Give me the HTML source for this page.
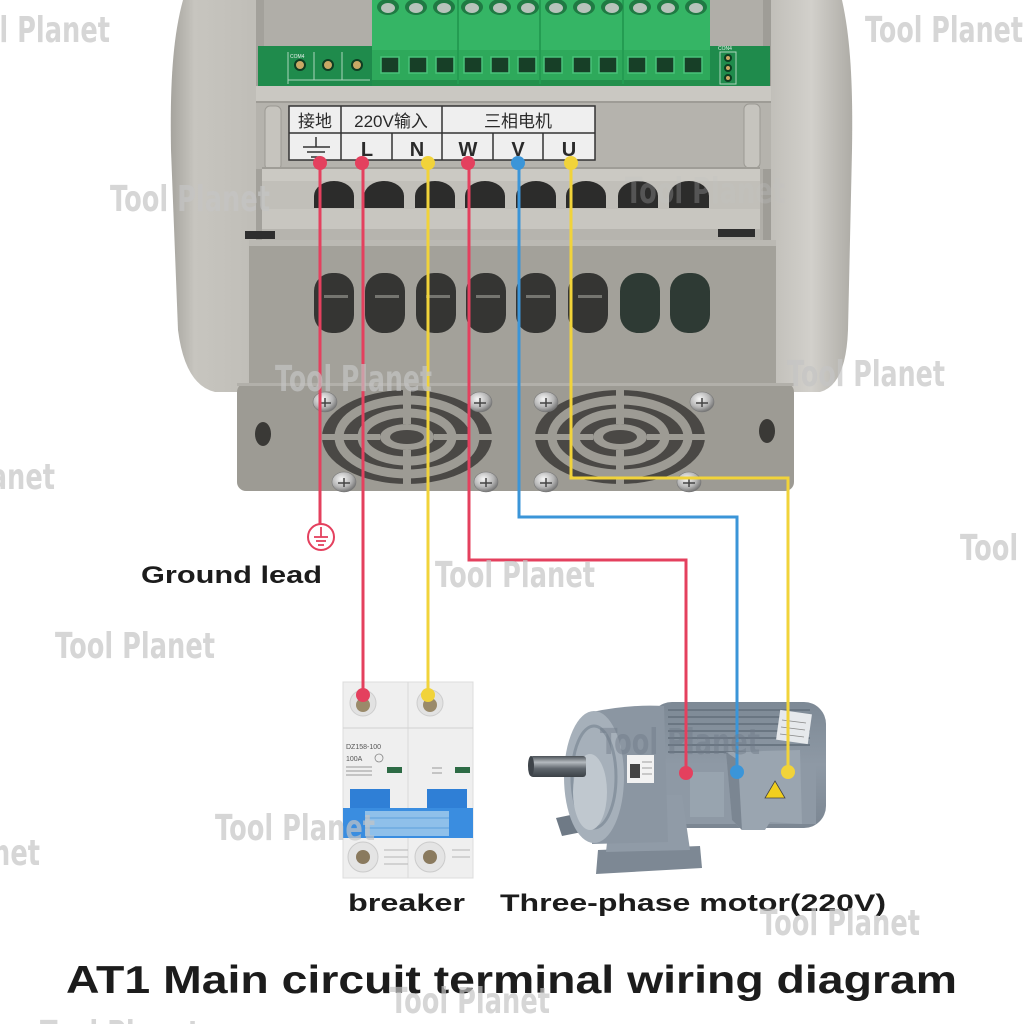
<!DOCTYPE html>
<html><head><meta charset="utf-8">
<style>html,body{margin:0;padding:0;background:#fff;}svg{display:block}</style>
</head>
<body>
<svg width="1024" height="1024" viewBox="0 0 1024 1024" xmlns="http://www.w3.org/2000/svg">
<defs>
  <linearGradient id="shellG" x1="0" x2="1" y1="0" y2="0">
    <stop offset="0" stop-color="#a6a49e"/>
    <stop offset="0.035" stop-color="#c7c5bf"/>
    <stop offset="0.12" stop-color="#c0beb8"/>
    <stop offset="0.86" stop-color="#bbb9b3"/>
    <stop offset="0.94" stop-color="#d2d0cb"/>
    <stop offset="1" stop-color="#aeaca6"/>
  </linearGradient>
  <radialGradient id="scr" cx="0.4" cy="0.35" r="0.7">
    <stop offset="0" stop-color="#f6f6f6"/>
    <stop offset="0.6" stop-color="#b5b5b5"/>
    <stop offset="1" stop-color="#6a6a6a"/>
  </radialGradient>
  <linearGradient id="shaftG" x1="0" x2="0" y1="0" y2="1">
    <stop offset="0" stop-color="#4a5056"/>
    <stop offset="0.3" stop-color="#b4babf"/>
    <stop offset="0.6" stop-color="#5f666d"/>
    <stop offset="1" stop-color="#3c4247"/>
  </linearGradient>
  <linearGradient id="motorG" x1="0" x2="0" y1="0" y2="1">
    <stop offset="0" stop-color="#7d8995"/>
    <stop offset="0.5" stop-color="#8e99a5"/>
    <stop offset="1" stop-color="#7b8692"/>
  </linearGradient>
</defs>

<rect width="1024" height="1024" fill="#fff"/>

<!-- ===== DEVICE ===== -->
<path d="M183,0 C172,40 170,90 171,150 L178,330 Q185,385 215,392 L820,392 Q846,385 848,330 L852,150 C853,90 851,40 842,0 Z" fill="url(#shellG)"/>
<rect x="256" y="0" width="515" height="245" fill="#b0aea8"/>
<rect x="256" y="0" width="8" height="245" fill="#a3a19b"/>
<rect x="763" y="0" width="8" height="245" fill="#9f9d97"/>

<!-- PCB -->
<rect x="258" y="46" width="512" height="42" fill="#1f8b4c"/>
<g stroke="#cfe8d8" stroke-width="1" fill="none" opacity="0.8">
  <line x1="288" y1="52" x2="288" y2="84"/>
  <line x1="314" y1="52" x2="314" y2="80"/>
  <line x1="342" y1="52" x2="342" y2="80"/>
  <line x1="288" y1="80" x2="370" y2="80"/>
  <rect x="720" y="52" width="16" height="32"/>
</g>
<g fill="#c9a865" stroke="#0e3d22" stroke-width="2">
  <circle cx="300" cy="65" r="5"/><circle cx="328" cy="65" r="5"/><circle cx="357" cy="65" r="5"/>
  <circle cx="728" cy="58" r="3"/><circle cx="728" cy="68" r="3"/><circle cx="728" cy="78" r="3"/>
</g>
<text x="290" y="58" font-family="Liberation Sans, sans-serif" font-size="5" fill="#e8f2ec">COM4</text>
<text x="718" y="50" font-family="Liberation Sans, sans-serif" font-size="5" fill="#e8f2ec">CON4</text>

<!-- green terminal block -->
<rect x="372" y="0" width="338" height="50" fill="#35b565"/>
<rect x="372" y="50" width="338" height="32" fill="#2ea95b"/>
<rect x="372" y="80" width="338" height="6" fill="#23904c"/>
<g stroke="#249c52" stroke-width="2">
  <line x1="458" y1="0" x2="458" y2="84"/><line x1="540" y1="0" x2="540" y2="84"/><line x1="623" y1="0" x2="623" y2="84"/>
</g>
<g>
  <g fill="#1f7a43">
    <ellipse cx="388" cy="7" rx="11" ry="8"/><ellipse cx="416" cy="7" rx="11" ry="8"/><ellipse cx="444" cy="7" rx="11" ry="8"/><ellipse cx="472" cy="7" rx="11" ry="8"/><ellipse cx="500" cy="7" rx="11" ry="8"/><ellipse cx="528" cy="7" rx="11" ry="8"/><ellipse cx="556" cy="7" rx="11" ry="8"/><ellipse cx="584" cy="7" rx="11" ry="8"/><ellipse cx="612" cy="7" rx="11" ry="8"/><ellipse cx="640" cy="7" rx="11" ry="8"/><ellipse cx="668" cy="7" rx="11" ry="8"/><ellipse cx="696" cy="7" rx="11" ry="8"/>
  </g>
  <g fill="#b7c3bb">
    <ellipse cx="388" cy="8" rx="7" ry="5"/><ellipse cx="416" cy="8" rx="7" ry="5"/><ellipse cx="444" cy="8" rx="7" ry="5"/><ellipse cx="472" cy="8" rx="7" ry="5"/><ellipse cx="500" cy="8" rx="7" ry="5"/><ellipse cx="528" cy="8" rx="7" ry="5"/><ellipse cx="556" cy="8" rx="7" ry="5"/><ellipse cx="584" cy="8" rx="7" ry="5"/><ellipse cx="612" cy="8" rx="7" ry="5"/><ellipse cx="640" cy="8" rx="7" ry="5"/><ellipse cx="668" cy="8" rx="7" ry="5"/><ellipse cx="696" cy="8" rx="7" ry="5"/>
  </g>
  <g fill="#173f27" stroke="#49c27a" stroke-width="1.5">
    <rect x="381" y="57" width="18" height="16"/><rect x="409" y="57" width="18" height="16"/><rect x="436" y="57" width="18" height="16"/><rect x="464" y="57" width="18" height="16"/><rect x="491" y="57" width="18" height="16"/><rect x="518" y="57" width="18" height="16"/><rect x="544" y="57" width="18" height="16"/><rect x="573" y="57" width="18" height="16"/><rect x="599" y="57" width="18" height="16"/><rect x="628" y="57" width="18" height="16"/><rect x="656" y="57" width="18" height="16"/><rect x="684" y="57" width="18" height="16"/>
  </g>
</g>

<rect x="256" y="86" width="515" height="17" fill="#cac8c2"/>
<rect x="256" y="101" width="515" height="2" fill="#9e9c96"/>
<rect x="256" y="103" width="515" height="66" fill="#b5b3ad"/>
<rect x="265" y="106" width="16" height="64" rx="5" fill="#c6c4be" stroke="#9c9a94"/>
<rect x="744" y="104" width="16" height="64" rx="5" fill="#c6c4be" stroke="#9c9a94"/>

<!-- label -->
<rect x="289" y="106" width="306" height="54" fill="#efefef" stroke="#333" stroke-width="1.5"/>
<g stroke="#333" stroke-width="1.5">
  <line x1="289" y1="133" x2="595" y2="133"/>
  <line x1="341" y1="106" x2="341" y2="160"/>
  <line x1="442" y1="106" x2="442" y2="160"/>
  <line x1="392" y1="133" x2="392" y2="160"/>
  <line x1="493" y1="133" x2="493" y2="160"/>
  <line x1="543" y1="133" x2="543" y2="160"/>
  <line x1="316" y1="137" x2="316" y2="147"/>
  <line x1="303" y1="147" x2="330" y2="147"/>
  <line x1="307" y1="152" x2="325" y2="152"/>
  <line x1="311" y1="157" x2="321" y2="157"/>
</g>
<g font-family="Liberation Sans, 'Noto Sans CJK SC', sans-serif" fill="#2a2a2a" text-anchor="middle">
  <text x="315" y="127" font-size="17">接地</text>
  <text x="391" y="127" font-size="17">220V输入</text>
  <text x="518" y="127" font-size="17">三相电机</text>
  <g font-weight="bold" font-size="20">
    <text x="367" y="156">L</text>
    <text x="417" y="156">N</text>
    <text x="468" y="156">W</text>
    <text x="518" y="156">V</text>
    <text x="569" y="156">U</text>
  </g>
</g>

<!-- terminal cover -->
<rect x="262" y="167" width="498" height="14" fill="#cbc9c3"/>
<rect x="262" y="167" width="498" height="2" fill="#9f9d97"/>
<rect x="262" y="181" width="498" height="28" fill="#c1bfb9"/>
<rect x="262" y="209" width="498" height="20" fill="#c8c6c0"/>
<rect x="262" y="229" width="498" height="12" fill="#b6b4ae"/>
<g fill="#2c2c2b">
  <path d="M314,208 L314,196 A20,15 0 0 1 354,196 L354,208 Z"/>
  <path d="M364,208 L364,196 A20,15 0 0 1 404,196 L404,208 Z"/>
  <path d="M415,208 L415,196 A20,15 0 0 1 455,196 L455,208 Z"/>
  <path d="M465,208 L465,196 A20,15 0 0 1 505,196 L505,208 Z"/>
  <path d="M516,208 L516,196 A20,15 0 0 1 556,196 L556,208 Z"/>
  <path d="M566,208 L566,196 A20,15 0 0 1 606,196 L606,208 Z"/>
  <path d="M618,208 L618,196 A20,15 0 0 1 658,196 L658,208 Z"/>
  <path d="M669,208 L669,196 A20,15 0 0 1 709,196 L709,208 Z"/>
</g>
<rect x="245" y="231" width="30" height="8" fill="#2e2e2e"/>
<rect x="718" y="229" width="37" height="8" fill="#2e2e2e"/>

<!-- front cover -->
<rect x="249" y="240" width="527" height="150" fill="#a3a19a"/>
<rect x="249" y="240" width="527" height="6" fill="#bbb9b3"/>
<g fill="#353533">
  <rect x="314" y="273" width="40" height="60" rx="18"/>
  <rect x="365" y="273" width="40" height="60" rx="18"/>
  <rect x="416" y="273" width="40" height="60" rx="18"/>
  <rect x="466" y="273" width="40" height="60" rx="18"/>
  <rect x="516" y="273" width="40" height="60" rx="18"/>
  <rect x="568" y="273" width="40" height="60" rx="18"/>
</g>
<g fill="#2e3a34">
  <rect x="620" y="273" width="40" height="60" rx="18"/>
  <rect x="670" y="273" width="40" height="60" rx="18"/>
</g>
<g fill="#757570">
  <rect x="324" y="295" width="24" height="3"/><rect x="375" y="295" width="24" height="3"/><rect x="426" y="295" width="24" height="3"/><rect x="476" y="295" width="24" height="3"/><rect x="526" y="295" width="24" height="3"/><rect x="578" y="295" width="24" height="3"/>
</g>

<!-- base -->
<rect x="237" y="383" width="557" height="108" rx="9" fill="#9d9b94"/>
<rect x="237" y="383" width="557" height="3" fill="#b2b0aa"/>
<ellipse cx="263" cy="434" rx="8" ry="12" fill="#3a3936"/>
<ellipse cx="767" cy="431" rx="8" ry="12" fill="#3a3936"/>

<!-- fans -->
<g transform="translate(407,437)">
  <ellipse rx="85" ry="47" fill="#4a4845"/>
  <ellipse rx="68" ry="37" fill="none" stroke="#9d9b94" stroke-width="9"/>
  <ellipse rx="45" ry="24" fill="none" stroke="#9d9b94" stroke-width="9"/>
  <ellipse rx="27" ry="13" fill="#9d9b94"/>
  <ellipse rx="17" ry="7" fill="#4a4845"/>
  <rect x="-4" y="-47" width="8" height="34" fill="#9d9b94"/>
  <rect x="-4" y="13" width="8" height="34" fill="#9d9b94"/>
  <rect x="-85" y="-3" width="58" height="6" fill="#9d9b94"/>
  <rect x="27" y="-3" width="58" height="6" fill="#9d9b94"/>
</g>
<g transform="translate(620,437)">
  <ellipse rx="85" ry="47" fill="#4a4845"/>
  <ellipse rx="68" ry="37" fill="none" stroke="#9d9b94" stroke-width="9"/>
  <ellipse rx="45" ry="24" fill="none" stroke="#9d9b94" stroke-width="9"/>
  <ellipse rx="27" ry="13" fill="#9d9b94"/>
  <ellipse rx="17" ry="7" fill="#4a4845"/>
  <rect x="-4" y="-47" width="8" height="34" fill="#9d9b94"/>
  <rect x="-4" y="13" width="8" height="34" fill="#9d9b94"/>
  <rect x="-85" y="-3" width="58" height="6" fill="#9d9b94"/>
  <rect x="27" y="-3" width="58" height="6" fill="#9d9b94"/>
</g>
<g fill="url(#scr)" stroke="#777" stroke-width="0.6">
  <ellipse cx="325" cy="402" rx="12" ry="10"/>
  <ellipse cx="480" cy="402" rx="12" ry="10"/>
  <ellipse cx="546" cy="402" rx="12" ry="10"/>
  <ellipse cx="702" cy="402" rx="12" ry="10"/>
  <ellipse cx="344" cy="482" rx="12" ry="10"/>
  <ellipse cx="486" cy="482" rx="12" ry="10"/>
  <ellipse cx="546" cy="482" rx="12" ry="10"/>
  <ellipse cx="689" cy="482" rx="12" ry="10"/>
</g>
<g stroke="#444" stroke-width="1.5">
  <path d="M319,403 h12 M325,398 v9"/><path d="M474,403 h12 M480,398 v9"/><path d="M540,403 h12 M546,398 v9"/><path d="M696,403 h12 M702,398 v9"/>
  <path d="M338,483 h12 M344,478 v9"/><path d="M480,483 h12 M486,478 v9"/><path d="M540,483 h12 M546,478 v9"/><path d="M683,483 h12 M689,478 v9"/>
</g>

<!-- ===== BREAKER ===== -->
<g>
  <rect x="343" y="682" width="130" height="196" fill="#efefef" stroke="#dcdcdc"/>
  <line x1="408" y1="682" x2="408" y2="878" stroke="#dadada"/>
  <line x1="343" y1="728" x2="473" y2="728" stroke="#d2d2d2"/>
  <circle cx="363" cy="703" r="13" fill="#e2e2e2" stroke="#cdcdcd"/>
  <circle cx="430" cy="703" r="13" fill="#e2e2e2" stroke="#cdcdcd"/>
  <circle cx="363" cy="705" r="7" fill="#9a8a6a"/>
  <circle cx="430" cy="705" r="7" fill="#9a8a6a"/>
  <g font-family="Liberation Sans, sans-serif" fill="#555">
    <text x="346" y="749" font-size="7">DZ158-100</text>
    <text x="346" y="761" font-size="7">100A</text>
    <circle cx="379" cy="758" r="4" fill="none" stroke="#888" stroke-width="0.8"/>
  </g>
  <g stroke="#9a9a9a" stroke-width="1">
    <line x1="346" y1="767" x2="372" y2="767"/><line x1="346" y1="771" x2="372" y2="771"/><line x1="346" y1="775" x2="372" y2="775"/>
    <line x1="432" y1="768" x2="442" y2="768"/><line x1="432" y1="773" x2="442" y2="773"/>
  </g>
  <rect x="387" y="767" width="15" height="6" fill="#2d6b45"/>
  <rect x="455" y="767" width="15" height="6" fill="#2d6b45"/>
  <rect x="350" y="789" width="40" height="22" fill="#2f7fd6"/>
  <rect x="427" y="789" width="40" height="22" fill="#2f7fd6"/>
  <rect x="343" y="808" width="130" height="30" fill="#3a8de0"/>
  <rect x="365" y="811" width="84" height="25" fill="#8fc0ea"/>
  <line x1="365" y1="818" x2="449" y2="818" stroke="#5d9fdc"/>
  <line x1="365" y1="828" x2="449" y2="828" stroke="#5d9fdc"/>
  <circle cx="363" cy="857" r="15" fill="#e4e4e4" stroke="#cbcbcb"/>
  <circle cx="430" cy="857" r="15" fill="#e4e4e4" stroke="#cbcbcb"/>
  <circle cx="363" cy="857" r="7" fill="#8a7a5e"/>
  <circle cx="430" cy="857" r="7" fill="#8a7a5e"/>
  <g stroke="#b5b5b5"><line x1="384" y1="850" x2="408" y2="850"/><line x1="384" y1="857" x2="408" y2="857"/><line x1="384" y1="864" x2="408" y2="864"/><line x1="452" y1="850" x2="470" y2="850"/><line x1="452" y1="857" x2="470" y2="857"/></g>
</g>

<!-- ===== MOTOR ===== -->
<g>
  <path d="M556,818 L585,812 L592,830 L562,836 Z" fill="#6f7a86"/>
  <path d="M598,850 L700,846 L702,868 L596,874 Z" fill="#7d8894"/>
  <rect x="650" y="702" width="176" height="126" rx="22" fill="url(#motorG)"/>
  <g stroke="#6a7682" stroke-width="2">
    <line x1="668" y1="710" x2="810" y2="710"/><line x1="668" y1="717" x2="810" y2="717"/><line x1="668" y1="724" x2="810" y2="724"/><line x1="668" y1="731" x2="810" y2="731"/><line x1="668" y1="738" x2="810" y2="738"/><line x1="668" y1="745" x2="810" y2="745"/><line x1="668" y1="752" x2="770" y2="752"/>
  </g>
  <rect x="656" y="764" width="160" height="60" fill="#8e99a5"/>
  <path d="M612,795 L682,795 L690,850 L606,852 Z" fill="#909ba7"/>
  <path d="M592,712 Q630,704 664,706 L668,842 L592,844 Z" fill="#8b96a2"/>
  <ellipse cx="594" cy="777" rx="30" ry="66" fill="#a6b0ba"/>
  <ellipse cx="594" cy="777" rx="22" ry="51" fill="none" stroke="#8894a0" stroke-width="3"/>
  <ellipse cx="590" cy="792" rx="17" ry="38" fill="#c0c8cf"/>
  <rect x="530" y="756" width="56" height="21" rx="3" fill="url(#shaftG)"/>
  <ellipse cx="531" cy="766" rx="3" ry="10" fill="#3e444a"/>
  <rect x="627" y="755" width="27" height="28" fill="#f2f2f2"/>
  <rect x="630" y="764" width="10" height="14" fill="#444"/>
  <g stroke="#888" stroke-width="0.8"><line x1="642" y1="762" x2="652" y2="762"/><line x1="642" y1="768" x2="652" y2="768"/><line x1="642" y1="774" x2="652" y2="774"/></g>
  <rect x="690" y="772" width="34" height="45" fill="#98a4af"/>
  <path d="M726,752 L800,750 L802,824 L770,822 L765,830 L742,830 L732,820 Z" fill="#9aa5b0"/>
  <path d="M726,752 L732,820 L742,830 L738,760 Z" fill="#7b8692"/>
  <path d="M775,781 L785,798 L765,798 Z" fill="#f2cf1e" stroke="#444" stroke-width="0.8"/>
  <rect x="778" y="712" width="32" height="30" fill="#e6e9ec" transform="rotate(8 794 727)"/>
  <g stroke="#888" stroke-width="0.8"><line x1="782" y1="720" x2="806" y2="723"/><line x1="781" y1="727" x2="805" y2="730"/><line x1="780" y1="734" x2="804" y2="737"/></g>
</g>

<!-- ===== WIRES ===== -->
<g fill="none" stroke-width="3" stroke-linejoin="miter">
  <polyline points="320,163 320,526" stroke="#e4405e"/>
  <polyline points="363,163 363,695" stroke="#e4405e"/>
  <polyline points="428,163 428,695" stroke="#f1d33a"/>
  <polyline points="469,163 469,560 686,560 686,773" stroke="#e4405e"/>
  <polyline points="519,163 519,517 737,517 737,772" stroke="#3b95d8"/>
  <polyline points="571,163 571,478 788,478 788,772" stroke="#f1d33a"/>
</g>
<g>
  <circle cx="320" cy="163" r="7" fill="#e4405e"/>
  <circle cx="362" cy="163" r="7" fill="#e4405e"/>
  <circle cx="428" cy="163" r="7" fill="#f1d33a"/>
  <circle cx="468" cy="163" r="7" fill="#e4405e"/>
  <circle cx="518" cy="163" r="7" fill="#3b95d8"/>
  <circle cx="571" cy="163" r="7" fill="#f1d33a"/>
  <circle cx="363" cy="695" r="7" fill="#e4405e"/>
  <circle cx="428" cy="695" r="7" fill="#f1d33a"/>
  <circle cx="686" cy="773" r="7" fill="#e4405e"/>
  <circle cx="737" cy="772" r="7" fill="#3b95d8"/>
  <circle cx="788" cy="772" r="7" fill="#f1d33a"/>
</g>
<circle cx="321" cy="537" r="13" fill="#fff" stroke="#e4405e" stroke-width="2"/>
<g stroke="#e4405e" stroke-width="1.8">
  <line x1="321" y1="527" x2="321" y2="537"/>
  <line x1="314" y1="537" x2="328" y2="537"/>
  <line x1="316" y1="541" x2="326" y2="541"/>
  <line x1="318" y1="545" x2="324" y2="545"/>
</g>

<!-- ===== TEXT ===== -->
<g font-family="'Liberation Sans', Arial, sans-serif" font-weight="bold" fill="#1c1c1c">
  <text x="141" y="583" font-size="24" textLength="181" lengthAdjust="spacingAndGlyphs">Ground lead</text>
  <text x="348" y="911" font-size="24" textLength="117" lengthAdjust="spacingAndGlyphs">breaker</text>
  <text x="500" y="911" font-size="24" textLength="386" lengthAdjust="spacingAndGlyphs">Three-phase motor(220V)</text>
  <text x="66" y="993" font-size="39" textLength="891" lengthAdjust="spacingAndGlyphs">AT1 Main circuit terminal wiring diagram</text>
</g>

<!-- ===== WATERMARKS ===== -->
<g font-family="'DejaVu Sans', sans-serif" font-weight="bold" font-size="36" fill="#c4c4c4" opacity="0.7">
  <text x="-50" y="42" textLength="160" lengthAdjust="spacingAndGlyphs">Tool Planet</text>
  <text x="865" y="42" textLength="158" lengthAdjust="spacingAndGlyphs">Tool Planet</text>
  <text x="110" y="211" textLength="160" lengthAdjust="spacingAndGlyphs">Tool Planet</text>
  <text x="625" y="203" textLength="160" lengthAdjust="spacingAndGlyphs" opacity="0.4">Tool Planet</text>
  <text x="275" y="391" textLength="157" lengthAdjust="spacingAndGlyphs">Tool Planet</text>
  <text x="787" y="386" textLength="158" lengthAdjust="spacingAndGlyphs">Tool Planet</text>
  <text x="-105" y="489" textLength="160" lengthAdjust="spacingAndGlyphs">Tool Planet</text>
  <text x="435" y="587" textLength="160" lengthAdjust="spacingAndGlyphs">Tool Planet</text>
  <text x="960" y="560" textLength="160" lengthAdjust="spacingAndGlyphs">Tool Planet</text>
  <text x="55" y="658" textLength="160" lengthAdjust="spacingAndGlyphs">Tool Planet</text>
  <text x="215" y="840" textLength="160" lengthAdjust="spacingAndGlyphs">Tool Planet</text>
  <text x="-120" y="865" textLength="160" lengthAdjust="spacingAndGlyphs">Tool Planet</text>
  <text x="760" y="935" textLength="160" lengthAdjust="spacingAndGlyphs">Tool Planet</text>
  <text x="390" y="1013" textLength="160" lengthAdjust="spacingAndGlyphs">Tool Planet</text>
  <text x="40" y="1046" textLength="160" lengthAdjust="spacingAndGlyphs">Tool Planet</text>
</g>
<text x="600" y="754" font-family="'DejaVu Sans', sans-serif" font-weight="bold" font-size="36" fill="#6f7b87" opacity="0.45" textLength="160" lengthAdjust="spacingAndGlyphs">Tool Planet</text>
</svg>
</body></html>
